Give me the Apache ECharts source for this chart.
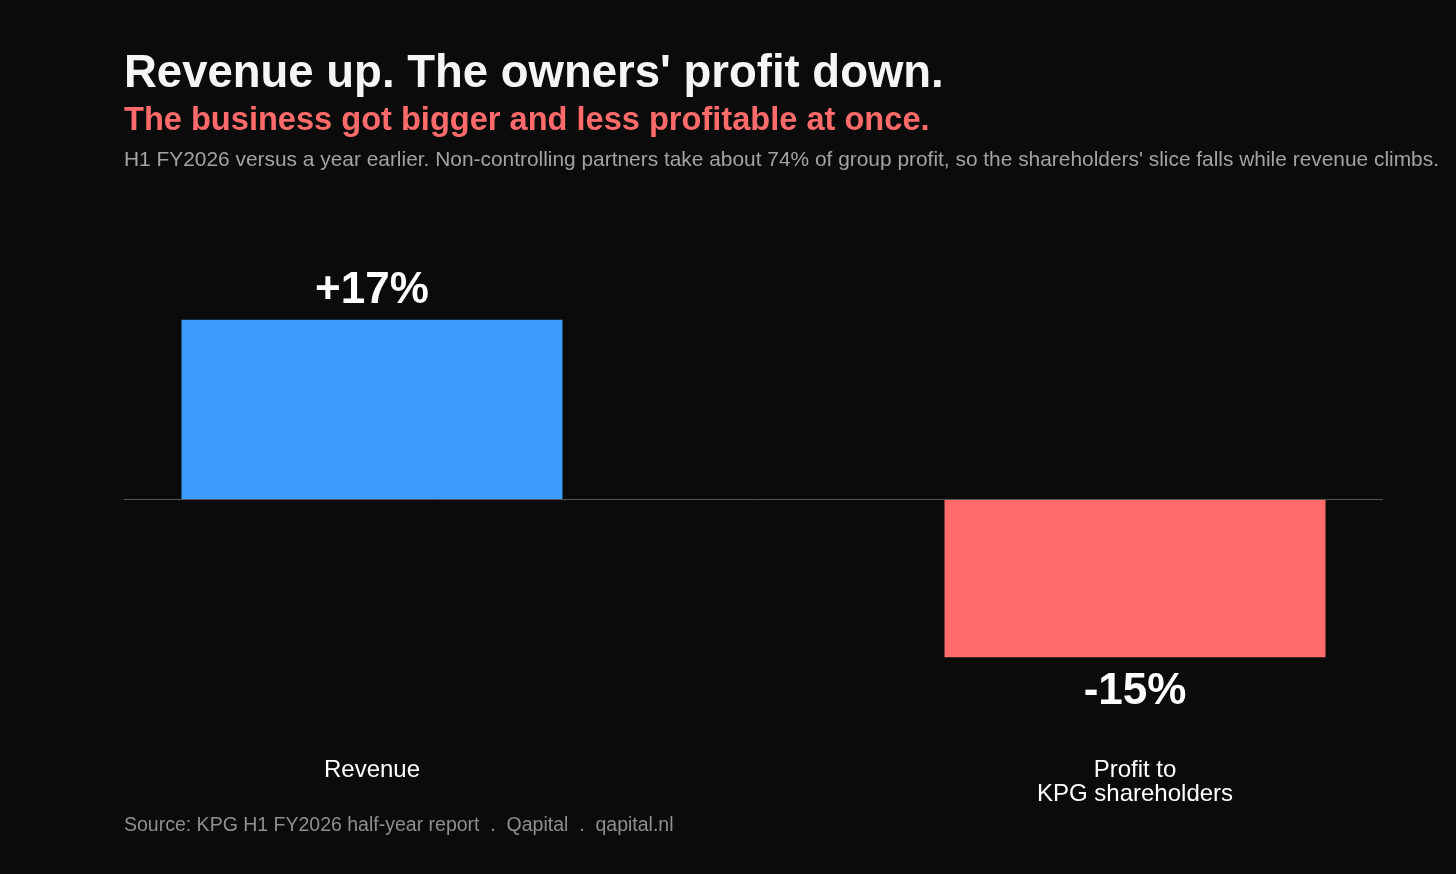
<!DOCTYPE html>
<html>
<head>
<meta charset="utf-8">
<title>Revenue up. The owners' profit down.</title>
<script src="https://cdn.jsdelivr.net/npm/echarts@6/dist/echarts.min.js"></script>
<style>
  html, body { margin: 0; padding: 0; background: #0b0b0b; }
  #main { width: 1456px; height: 874px; }
</style>
</head>
<body>
<div id="main"></div>
<script>
// data
var categories = ['Revenue', 'Profit to\nKPG shareholders'];
var changes = [17, -15];          // % change, H1 FY2026 vs a year earlier
var barColors = ['#3d9bff', '#ff6b6b'];

var font = "'Liberation Sans', Arial, Helvetica, sans-serif";

var chart = echarts.init(document.getElementById('main'));

var option = {
    backgroundColor: '#0b0b0b',
    animation: false,
    title: [
        {
            text: "Revenue up. The owners' profit down.",
            left: 124, top: 51, padding: 0,
            textStyle: { color: '#f5f5f5', fontSize: 45.5, fontWeight: 'bold', fontFamily: font }
        },
        {
            text: 'The business got bigger and less profitable at once.',
            left: 124, top: 105, padding: 0,
            textStyle: { color: '#ff6b6b', fontSize: 32.6, fontWeight: 'bold', fontFamily: font }
        },
        {
            text: "H1 FY2026 versus a year earlier. Non-controlling partners take about 74% of group profit, so the shareholders' slice falls while revenue climbs.",
            left: 124, top: 150, padding: 0,
            textStyle: { color: '#a3a3a3', fontSize: 20.9, fontWeight: 'normal', fontFamily: font }
        },
        {
            text: 'Source: KPG H1 FY2026 half-year report  .  Qapital  .  qapital.nl',
            left: 124, top: 816, padding: 0,
            textStyle: { color: '#8f8f8f', fontSize: 19.5, fontWeight: 'normal', fontFamily: font }
        }
    ],
    grid: {
        left: 124,
        right: 73,
        top: 267,
        bottom: 143
    },
    xAxis: {
        type: 'value',
        min: -0.325,
        max: 1.325,
        axisLine: { show: false },
        axisTick: { show: false },
        splitLine: { show: false },
        axisLabel: {
            customValues: [0, 1],
            formatter: function (v) { return categories[Math.round(v)]; },
            color: '#ffffff',
            fontSize: 24,
            lineHeight: 24,
            fontFamily: font,
            margin: 27
        }
    },
    yAxis: {
        type: 'value',
        min: -22,
        max: 22,
        axisLine: { show: false },
        axisTick: { show: false },
        axisLabel: { show: false },
        splitLine: { show: false }
    },
    series: [
        {
            type: 'bar',
            barWidth: 381,
            data: changes.map(function (v, i) {
                return {
                    value: [i, v],
                    itemStyle: { color: barColors[i] },
                    label: { position: v >= 0 ? 'top' : 'bottom', distance: v >= 0 ? 7 : 13 }
                };
            }),
            label: {
                show: true,
                color: '#ffffff',
                fontSize: 44,
                fontWeight: 'bold',
                fontFamily: font,
                formatter: function (p) {
                    var v = p.value[1];
                    return (v > 0 ? '+' : '') + v + '%';
                }
            },
            markLine: {
                silent: true,
                symbol: 'none',
                label: { show: false },
                lineStyle: { color: '#555555', width: 1, type: 'solid' },
                data: [{ yAxis: 0 }]
            }
        }
    ]
};

chart.setOption(option);
</script>
</body>
</html>
